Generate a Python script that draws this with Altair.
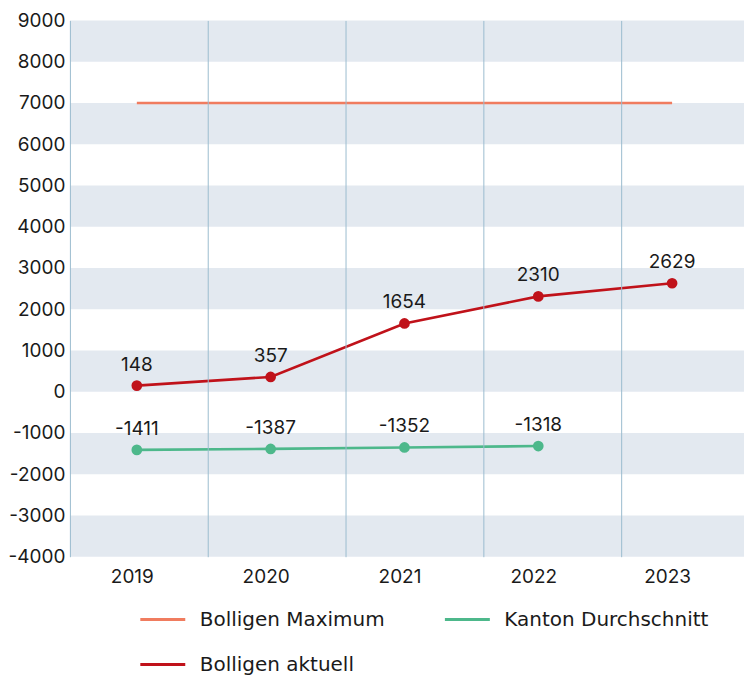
import altair as alt
import pandas as pd

# ---- data ----
years = [2019, 2020, 2021, 2022, 2023]
bolligen_aktuell = [148, 357, 1654, 2310, 2629]
kanton_years = [2019, 2020, 2021, 2022]
kanton_durchschnitt = [-1411, -1387, -1352, -1318]
bolligen_maximum = [7000, 7000, 7000, 7000, 7000]

series_names = ["Bolligen Maximum", "Kanton Durchschnitt", "Bolligen aktuell"]
series_colors = ["#f07c5f", "#4db88b", "#c0121a"]

stripe_starts = [-4000, -2000, 0, 2000, 4000, 6000, 8000]
y_ticks = list(range(-4000, 9001, 1000))
grid_years = [2019.53, 2020.56, 2021.59, 2022.62]

rows = []
for y, v in zip(years, bolligen_maximum):
    rows.append(dict(year=y, value=v, series="Bolligen Maximum", marker=False))
for y, v in zip(kanton_years, kanton_durchschnitt):
    rows.append(dict(year=y, value=v, series="Kanton Durchschnitt", marker=True))
for y, v in zip(years, bolligen_aktuell):
    rows.append(dict(year=y, value=v, series="Bolligen aktuell", marker=True))
df = pd.DataFrame(rows)

stripes = pd.DataFrame({"start": stripe_starts, "end": [s + 1000 for s in stripe_starts]})

W, H = 675, 537
FONT = "Inter"
LEGEND_FONT = "DejaVu Sans"
TXT = "#1a1a1a"
GRID = "#9bbccf"

xscale = alt.Scale(domain=[2018.5, 2018.5 + W / 134], nice=False, zero=False)
yscale = alt.Scale(domain=[-4000, 9000], nice=False, zero=False)
cscale = alt.Scale(domain=series_names, range=series_colors)

stripe_layer = alt.Chart(stripes).mark_rect(color="#e3e9f0").encode(
    y=alt.Y("start:Q", scale=yscale, axis=alt.Axis(
        values=y_ticks, title=None, grid=False, ticks=False,
        labelFontSize=19, labelFont=FONT, labelColor=TXT, labelPadding=5,
        domainColor=GRID, domainWidth=1, zindex=1,
        labelExpr="toString(datum.value)")),
    y2="end:Q",
    x=alt.value(0),
    x2=alt.value(W),
)

line_layer = alt.Chart(df).mark_line(strokeWidth=2.6).encode(
    x=alt.X("year:Q", scale=xscale, axis=alt.Axis(
        values=years, title=None, grid=False, ticks=False, domain=False,
        labelFontSize=19, labelFont=FONT, labelColor=TXT, labelPadding=11,
        labelOffset=-5, format="d")),
    y=alt.Y("value:Q", scale=yscale),
    color=alt.Color("series:N", scale=cscale, legend=alt.Legend(
        title=None, orient="none", legendX=69, legendY=576, columns=2,
        direction="horizontal",
        columnPadding=53, rowPadding=11, symbolType="stroke",
        symbolSize=2025, symbolStrokeWidth=3, labelFontSize=20,
        labelFont=LEGEND_FONT, labelColor=TXT, labelOffset=13, labelLimit=400)),
    detail="series:N",
)

point_layer = alt.Chart(df).transform_filter("datum.marker").mark_point(
    filled=True, size=115, opacity=1).encode(
    x=alt.X("year:Q", scale=xscale, axis=alt.Axis(
        orient="top", values=grid_years, title=None, grid=True, gridColor=GRID,
        gridWidth=1, gridOpacity=1, labels=False, ticks=False, domain=False, zindex=1)),
    y=alt.Y("value:Q", scale=yscale),
    color=alt.Color("series:N", scale=cscale, legend=None),
)

text_layer = alt.Chart(df).transform_filter("datum.marker").transform_calculate(
    label="toString(datum.value)"
).mark_text(
    dy=-21, baseline="middle", fontSize=19, font=FONT, color=TXT).encode(
    x=alt.X("year:Q", scale=xscale, axis=None),
    y=alt.Y("value:Q", scale=yscale),
    text="label:N",
)

chart = alt.layer(stripe_layer, line_layer, point_layer, text_layer).resolve_axis(
    x="independent"
).properties(
    width=W, height=H, padding={"left": 0, "top": 3, "right": 0, "bottom": 0},
    background="white",
).configure_view(stroke=None)

chart.save("out.html", embed_options={"renderer": "svg", "actions": False})
